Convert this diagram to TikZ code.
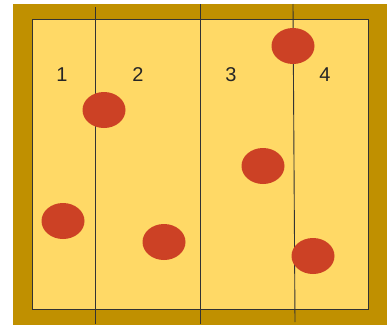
\documentclass[tikz,border=0pt]{standalone}
\usepackage{fontspec}
\setmainfont{Liberation Sans}
\usetikzlibrary{shapes.geometric}
\definecolor{frame}{RGB}{192,144,0}
\definecolor{floor}{RGB}{255,217,102}
\definecolor{ball}{RGB}{204,65,37}
\begin{document}
\begin{tikzpicture}[
    x=1pt, y=-1pt,
    ball/.style={ellipse, fill=ball, minimum width=43pt, minimum height=36pt, inner sep=0pt},
    divider/.style={line width=0.9pt, draw=black!80},
    lane/.style={font=\fontsize{20}{20}\selectfont, text=black!85}
]
    \useasboundingbox (0,0) rectangle (388,327);
    % frame and floor
    \fill[frame] (13,4) rectangle (387,325);
    \draw[fill=floor, draw=black!80, line width=1pt] (32,19) rectangle (368,309);

    % dividers
    \coordinate (d1t) at (95,7);   \coordinate (d1b) at (95,324);
    \coordinate (d2t) at (200,4);  \coordinate (d2b) at (200,324);
    \coordinate (d3t) at (293,4);  \coordinate (d3b) at (295,322);
    \draw[divider] (d1t) -- (d1b);
    \draw[divider] (d2t) -- (d2b);
    \draw[divider] (d3t) -- (d3b);

    % lane numbers
    \node[lane] (n1) at (62,75) {1};
    \node[lane] (n2) at (138,75) {2};
    \node[lane] (n3) at (231,75) {3};
    \node[lane] (n4) at (325,75) {4};

    % balls
    \node[ball] (b1) at (293,46) {};
    \node[ball] (b2) at (104,110) {};
    \node[ball] (b3) at (263,166) {};
    \node[ball] (b4) at (63,221) {};
    \node[ball] (b5) at (164,242) {};
    \node[ball] (b6) at (313,256) {};
\end{tikzpicture}
\end{document}
